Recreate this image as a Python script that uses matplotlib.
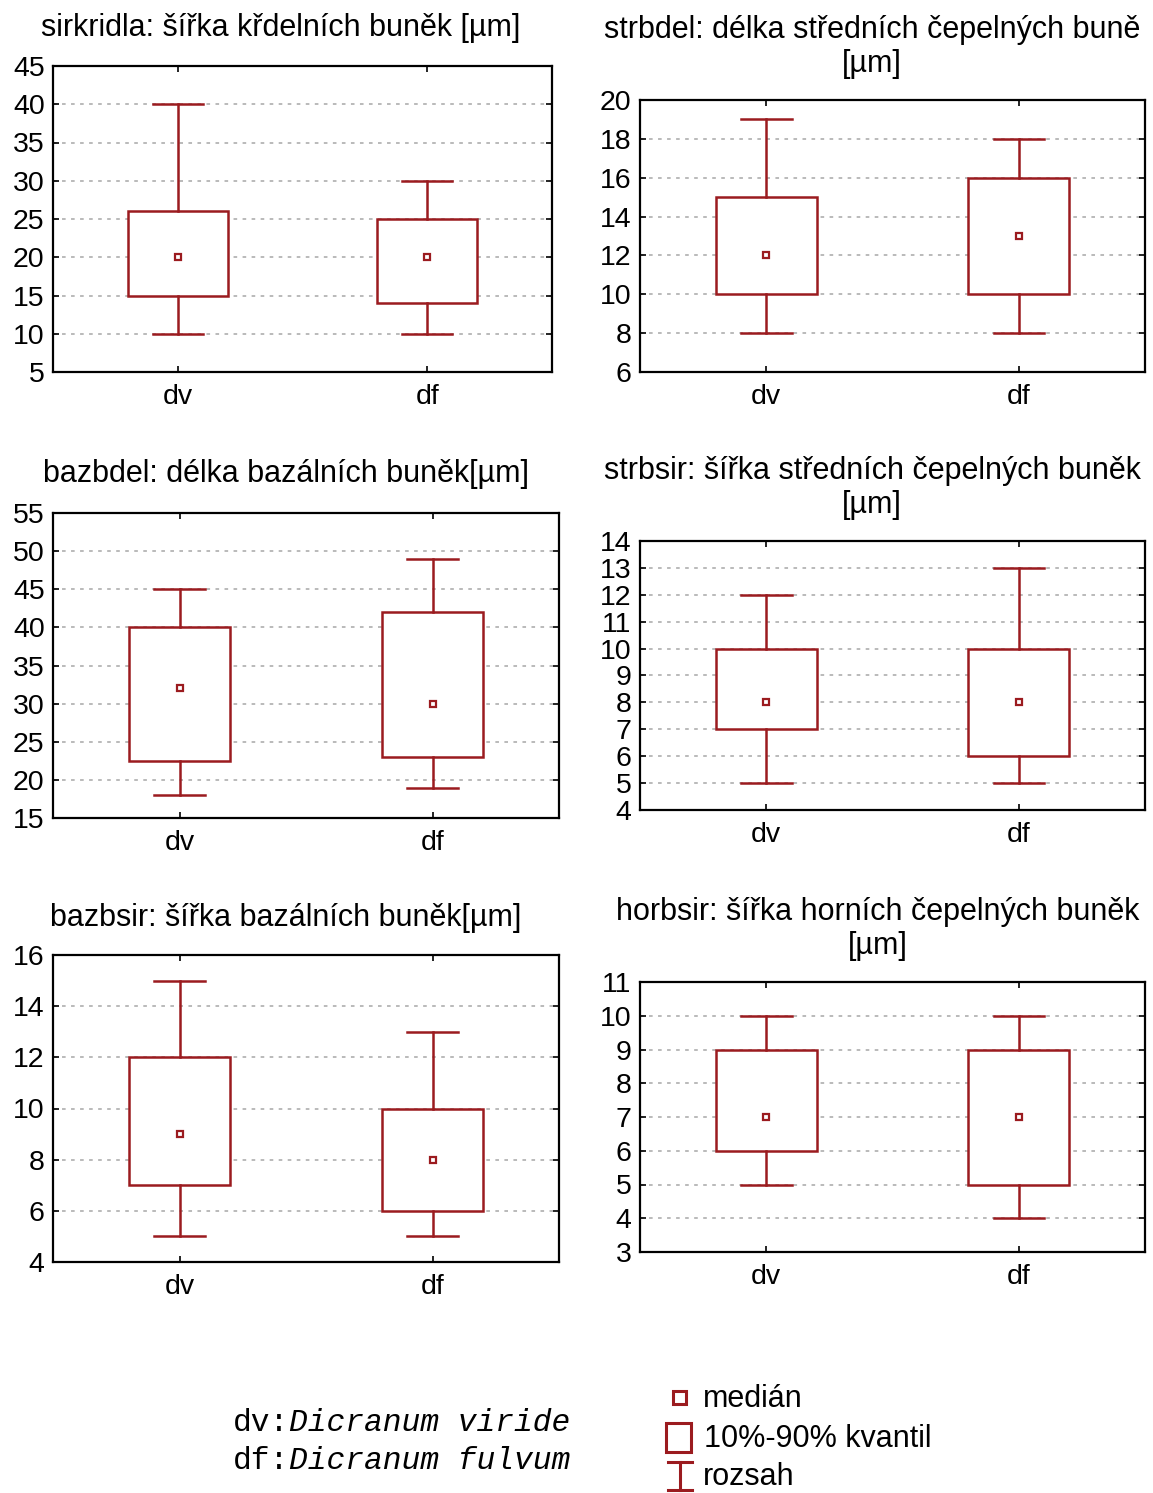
import matplotlib
matplotlib.use('Agg')
import matplotlib.pyplot as plt
from matplotlib.patches import Rectangle
from matplotlib.lines import Line2D

W, H = 1153, 1493
RED = '#9b1b1f'

plt.rcParams['font.family'] = ['Liberation Sans', 'DejaVu Sans']

groups = ['dv', 'df']

# each panel: whisker low, 10 %, median, 90 %, whisker high  (dv, df)
sirkridla_lo = [10, 10]
sirkridla_q1 = [15, 14]
sirkridla_med = [20, 20]
sirkridla_q3 = [26, 25]
sirkridla_hi = [40, 30]

strbdel_lo = [8, 8]
strbdel_q1 = [10, 10]
strbdel_med = [12, 13]
strbdel_q3 = [15, 16]
strbdel_hi = [19, 18]

bazbdel_lo = [18, 19]
bazbdel_q1 = [22.5, 23]
bazbdel_med = [32, 30]
bazbdel_q3 = [40, 42]
bazbdel_hi = [45, 49]

strbsir_lo = [5, 5]
strbsir_q1 = [7, 6]
strbsir_med = [8, 8]
strbsir_q3 = [10, 10]
strbsir_hi = [12, 13]

bazbsir_lo = [5, 5]
bazbsir_q1 = [7, 6]
bazbsir_med = [9, 8]
bazbsir_q3 = [12, 10]
bazbsir_hi = [15, 13]

horbsir_lo = [5, 4]
horbsir_q1 = [6, 5]
horbsir_med = [7, 7]
horbsir_q3 = [9, 9]
horbsir_hi = [10, 10]

titles = [
    'sirkridla: šířka křdelních buněk [µm]',
    'strbdel: délka středních čepelných buně\n[µm]',
    'bazbdel: délka bazálních buněk[µm]',
    'strbsir: šířka středních čepelných buněk\n[µm]',
    'bazbsir: šířka bazálních buněk[µm]',
    'horbsir: šířka horních čepelných buněk\n[µm]',
]
y_limits = [(5, 45, 5), (6, 20, 2), (15, 55, 5), (4, 14, 1), (4, 16, 2), (3, 11, 1)]

panels = [
    (sirkridla_lo, sirkridla_q1, sirkridla_med, sirkridla_q3, sirkridla_hi),
    (strbdel_lo, strbdel_q1, strbdel_med, strbdel_q3, strbdel_hi),
    (bazbdel_lo, bazbdel_q1, bazbdel_med, bazbdel_q3, bazbdel_hi),
    (strbsir_lo, strbsir_q1, strbsir_med, strbsir_q3, strbsir_hi),
    (bazbsir_lo, bazbsir_q1, bazbsir_med, bazbsir_q3, bazbsir_hi),
    (horbsir_lo, horbsir_q1, horbsir_med, horbsir_q3, horbsir_hi),
]

# axes boxes in pixels: left, right, top, bottom ; title centre x, title y
boxes = [
    (53, 552, 66, 372, 281, 28),
    (640, 1145, 100, 372, 872, 47),
    (53, 559, 513, 818, 286, 474),
    (640, 1145, 541, 810, 872, 488),
    (53, 559, 955, 1262, 286, 918),
    (640, 1145, 982, 1252, 878, 929),
]

fig = plt.figure(figsize=(W / 100, H / 100), dpi=100)


def fx(px):
    return px / W


def fy(py):
    return 1 - py / H


for (lo, q1, med, q3, hi), (l, r, t, b, tx, ty), title, (y0, y1, step) in zip(panels, boxes, titles, y_limits):
    ax = fig.add_axes([fx(l), fy(b), (r - l) / W, (b - t) / H])
    stats = []
    for i, g in enumerate(groups):
        stats.append(dict(label=g, whislo=lo[i], q1=q1[i], med=med[i], q3=q3[i], whishi=hi[i], fliers=[]))
    ax.bxp(stats, positions=[0, 1], widths=0.4, capwidths=0.2, patch_artist=True,
           boxprops=dict(facecolor='white', edgecolor=RED, linewidth=1.8),
           whiskerprops=dict(color=RED, linewidth=1.8),
           capprops=dict(color=RED, linewidth=1.8),
           medianprops=dict(visible=False))
    ax.plot([0, 1], med, 's', ms=5, mfc='white', mec=RED, mew=1.6, zorder=5)

    ax.set_xlim(-0.5, 1.5)
    ax.set_ylim(y0, y1)
    ticks = list(range(y0, y1 + 1, step))
    ax.set_yticks(ticks)
    ax.set_xticks([0, 1])
    ax.set_xticklabels(groups)
    ax.set_axisbelow(True)
    ax.yaxis.grid(True, color='#b4b4b4', linestyle=(0, (2, 3)), linewidth=1.3)
    ax.tick_params(direction='in', length=4, width=1.2, labelsize=20.5, top=True, right=True, pad=6)
    ax.tick_params(axis='x', pad=9)
    for s in ax.spines.values():
        s.set_linewidth(1.6)
    fig.text(fx(tx), fy(ty), title, ha='center', va='center', fontsize=22, linespacing=1.2)

# species key
mono = ['Liberation Mono', 'DejaVu Sans Mono']
for txt_a, txt_b, py in [('dv:', 'Dicranum viride', 1423), ('df:', 'Dicranum fulvum', 1461)]:
    t1 = fig.text(fx(233), fy(py), txt_a, ha='left', va='center', fontsize=22.5, family=mono)
    fig.canvas.draw()
    bb = t1.get_window_extent()
    fig.text(bb.x1 / W, fy(py), txt_b, ha='left', va='center', fontsize=22.5, style='italic', family=mono)

# symbol key
key = fig.add_axes([0, 0, 1, 1], facecolor='none')
key.set_xlim(0, W)
key.set_ylim(H, 0)
key.axis('off')
key.add_patch(Rectangle((673, 1391), 13, 13, fill=False, edgecolor=RED, linewidth=2.2))
key.add_patch(Rectangle((666, 1423), 25, 29, fill=False, edgecolor=RED, linewidth=2.2))
key.add_line(Line2D([668, 692], [1462, 1462], color=RED, linewidth=2.2))
key.add_line(Line2D([680, 680], [1462, 1490], color=RED, linewidth=2.2))
key.add_line(Line2D([668, 692], [1490, 1490], color=RED, linewidth=2.2))
key.text(703, 1399, 'medián', ha='left', va='center', fontsize=22)
key.text(704, 1439, '10%-90% kvantil', ha='left', va='center', fontsize=22)
key.text(703, 1477, 'rozsah', ha='left', va='center', fontsize=22)

fig.savefig('out.png', dpi=100)
